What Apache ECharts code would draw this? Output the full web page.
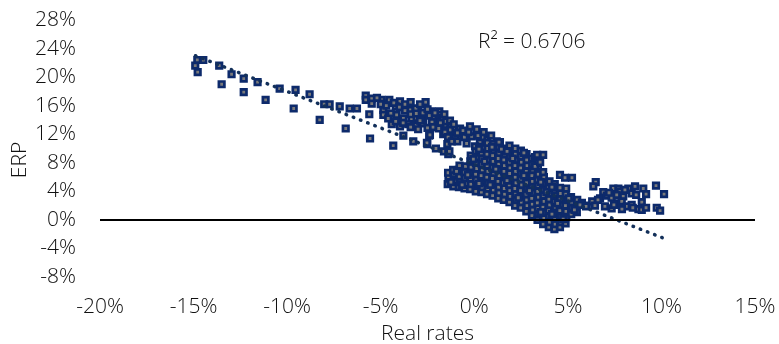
<!DOCTYPE html>
<html>
<head>
<meta charset="utf-8">
<script src="https://cdn.jsdelivr.net/npm/echarts@6/dist/echarts.min.js"></script>
<style>
html,body{margin:0;padding:0;background:#fff;}
#chart{width:779px;height:344px;}
</style>
</head>
<body>
<div id="chart"></div>
<script>
// Axis ticks (percent)
const xTicks = [-20, -15, -10, -5, 0, 5, 10, 15];
const yTicks = [-8, -4, 0, 4, 8, 12, 16, 20, 24, 28];

// Observations: [real rate %, ERP %]
const sparseTail = [
  [-14.80,22.4],[-14.48,22.4],[-14.91,21.6],[-14.78,20.7],[-13.63,21.6],[-12.97,20.4],[-13.50,19.0],
  [-12.32,19.8],[-12.32,17.9],[-11.58,19.3],[-11.15,16.8],[-10.40,18.4],[-9.55,18.2],[-9.65,15.6],
  [-8.80,17.6],[-8.26,14.0],[-8.02,16.2],[-7.73,16.2],[-7.19,15.9],[-6.87,12.8],[-6.66,15.6],[-6.27,15.6]
];

const upperBand = [
  [-5.80,17.4],[-5.80,16.8],[-5.48,17.0],[-5.48,16.3],[-4.95,16.8],[-4.54,16.8],[-3.97,16.6],[-4.86,15.4],
  [-4.86,14.7],[-4.20,15.9],[-5.61,14.8],[-3.44,15.4],[-2.99,15.6],[-2.60,16.5],[-4.15,14.7],[-3.79,14.2],
  [-3.35,14.2],[-3.08,14.3],[-2.73,14.7],[-2.28,15.2],[-1.87,15.2],[-4.41,13.4],[-3.97,13.1],[-3.53,13.4],
  [-3.12,13.2],[-2.73,13.8],[-2.19,14.0],[-1.92,14.2],[-5.57,11.4],[-4.33,10.4],[-3.79,11.8],[-3.26,11.0],
  [-2.41,11.8],[-2.51,10.6],[-2.05,10.0],[-1.62,9.6],[-1.39,9.2],[-1.44,10.6],[-1.12,12.8],[-0.76,12.8],
  [-0.23,13.1],[0.13,12.7],[-1.03,11.5],[-0.59,11.9],[-0.14,11.7],[0.30,11.0],[0.66,11.2],[-1.92,13.3],
  [-1.57,13.3],[-1.30,12.6],[-1.66,12.0],[-0.41,10.7],[0.04,10.3],[0.40,10.0],[0.84,10.5],[1.20,11.0],
  [-2.74,15.0],[-2.21,14.4],[-1.83,14.7],[-1.67,14.3],[-2.74,13.7],[-2.26,13.7],[-2.37,11.9],[-1.57,12.3],
  [0.41,11.6],[-2.53,10.8],[1.37,10.9],[-4.90,16.3],[-4.46,14.9],[-3.12,15.6],[-2.76,13.5],[-1.81,13.6],
  [-0.53,11.6],[-1.33,9.6],
  [-5.20,17.1],[-5.00,16.2],[-4.70,16.0],[-4.30,16.4],[-4.00,15.8],[-3.70,15.3],[-3.70,16.2],[-3.40,16.5],
  [-3.40,14.8],[-3.10,14.9],[-2.90,16.2],[-2.50,15.5],[-2.40,14.6],[-2.10,15.0],[-1.60,14.8],[-1.50,13.8],
  [-1.30,13.9],[-1.10,13.4],[-0.90,12.2],[-0.60,12.5],[-0.30,12.3],[-4.60,14.2],[-4.20,13.8],[-3.80,13.6],
  [-3.40,13.0],[-3.00,12.7],[-2.90,13.9],[-2.50,12.9],[-2.20,13.0],[-1.90,12.8],[-1.40,11.6],[-1.20,11.0],
  [-0.90,11.0],[0.20,11.8],[0.50,12.3],[0.90,11.8]
];

const mainCluster = [
  [-1.42,5.0],[-1.38,5.9],[-1.40,6.6],
  [-1.12,4.7],[-1.08,5.5],[-1.10,6.4],[-1.13,7.0],
  [-0.82,4.6],[-0.78,5.3],[-0.80,6.1],[-0.83,7.0],[-0.79,7.6],
  [-0.52,4.4],[-0.48,5.1],[-0.50,5.9],[-0.53,6.7],[-0.47,7.5],
  [-0.22,4.3],[-0.18,5.0],[-0.20,5.8],[-0.23,6.6],[-0.17,7.4],[-0.21,8.2],[-0.19,9.0],
  [0.08,4.0],[0.12,4.8],[0.10,5.6],[0.07,6.4],[0.13,7.2],[0.09,8.0],[0.11,8.8],[0.08,9.6],
  [0.38,3.9],[0.42,4.6],[0.40,5.4],[0.37,6.2],[0.43,7.0],[0.39,7.8],[0.41,8.6],[0.38,9.4],[0.42,10.2],
  [0.68,3.6],[0.72,4.4],[0.70,5.2],[0.67,6.0],[0.73,6.8],[0.69,7.6],[0.71,8.4],[0.68,9.2],[0.72,10.0],[0.70,10.8],
  [0.98,3.4],[1.02,4.2],[1.00,5.0],[0.97,5.8],[1.03,6.6],[0.99,7.4],[1.01,8.2],[0.98,9.0],[1.02,9.8],[1.00,10.6],
  [1.28,3.0],[1.32,3.8],[1.30,4.6],[1.27,5.4],[1.33,6.2],[1.29,7.0],[1.31,7.8],[1.28,8.6],[1.32,9.4],[1.30,10.2],
  [1.58,2.8],[1.62,3.6],[1.60,4.4],[1.57,5.2],[1.63,6.0],[1.59,6.8],[1.61,7.6],[1.58,8.4],[1.62,9.2],[1.60,10.0],
  [1.88,2.5],[1.92,3.3],[1.90,4.1],[1.87,4.9],[1.93,5.7],[1.89,6.5],[1.91,7.3],[1.88,8.1],[1.92,8.9],[1.90,9.7],[1.88,10.4],
  [2.18,2.0],[2.22,2.8],[2.20,3.6],[2.17,4.4],[2.23,5.2],[2.19,6.0],[2.21,6.8],[2.18,7.6],[2.22,8.4],[2.20,9.2],[2.19,10.0],
  [2.48,1.7],[2.52,2.5],[2.50,3.3],[2.47,4.1],[2.53,4.9],[2.49,5.7],[2.51,6.5],[2.48,7.3],[2.52,8.1],[2.50,8.9],[2.49,9.7],
  [2.78,1.2],[2.82,2.0],[2.80,2.8],[2.77,3.6],[2.83,4.4],[2.79,5.2],[2.81,6.0],[2.78,6.8],[2.82,7.6],[2.80,8.4],[2.79,9.2],
  [3.08,0.6],[3.12,1.4],[3.10,2.2],[3.07,3.0],[3.13,3.8],[3.09,4.6],[3.11,5.4],[3.08,6.2],[3.12,7.0],[3.10,7.8],[3.09,8.6],
  [3.38,0.0],[3.42,0.8],[3.40,1.6],[3.37,2.4],[3.43,3.2],[3.39,4.0],[3.41,4.8],[3.38,5.6],[3.42,6.4],[3.40,7.2],
  [3.68,-0.6],[3.72,0.2],[3.70,1.0],[3.67,1.8],[3.73,2.6],[3.69,3.4],[3.71,4.2],[3.68,5.0],[3.72,6.0],
  [3.98,-1.0],[4.02,-0.3],[4.00,0.5],[3.97,1.3],[4.03,2.1],[3.99,2.9],[4.01,3.7],[3.98,4.5],[4.02,5.4],
  [4.28,-1.3],[4.32,-0.6],[4.30,0.2],[4.27,1.0],[4.33,1.8],[4.29,2.6],[4.31,3.4],[4.28,4.2],[4.30,5.0],
  [4.58,-1.0],[4.62,-0.3],[4.60,0.5],[4.57,1.3],[4.63,2.1],[4.59,2.9],[4.61,3.7],[4.58,4.5],
  [4.88,-0.5],[4.92,0.4],[4.90,1.2],[4.87,2.0],[4.93,2.8],[4.89,3.6],[4.91,4.4],
  [5.18,0.8],[5.22,1.7],[5.20,2.5],[5.17,3.2],
  [5.48,1.1],[5.52,2.2],[5.50,2.8],
  [5.75,2.4],[6.01,2.0],[6.30,2.6],
  [-1.25,5.3],[-0.95,6.8],[-0.65,4.9],[-0.35,6.3],[0.25,5.1],[0.55,8.2],[0.85,4.9],[1.15,7.1],
  [1.45,9.9],[1.75,5.5],[2.05,8.6],[2.35,3.1],[2.65,6.2],[2.95,4.1],[3.25,7.5],[3.55,1.1],
  [3.85,3.9],[4.15,0.8],[4.45,2.3],[4.75,0.1],[5.05,3.0],[5.35,1.4],[0.95,10.2],[1.75,9.6],
  [2.65,9.4],[3.25,8.8],[0.25,9.9],[-0.05,8.5],[3.55,5.3],[4.15,4.6]
];

const isolatedPoints = [
  [3.36,9.1],[3.68,9.1],[3.52,8.1],[3.68,6.7],[4.58,6.3],[4.85,5.9],[5.22,5.9],[1.32,10.9]
];

const rightCluster = [
  [6.49,5.3],[6.36,4.7],[6.89,3.9],[7.43,4.4],[7.70,4.4],[7.79,4.0],[8.23,4.4],[8.59,4.7],[9.03,4.4],
  [9.18,3.6],[9.71,4.8],[10.14,3.6],[6.72,3.0],[7.08,3.4],[7.34,3.1],[7.61,3.5],[7.96,3.3],[8.41,3.7],
  [8.95,2.5],[5.65,2.1],[5.97,1.9],[6.45,2.0],[6.98,1.9],[7.34,1.6],[7.70,2.3],[7.88,2.6],[8.15,1.9],
  [8.41,2.1],[8.77,1.5],[8.95,1.4],[9.75,1.7],[9.93,1.3],[6.61,2.8],[7.20,3.8],[8.05,4.2],[8.65,3.5],
  [7.46,2.1],[7.89,1.5],[8.47,1.7],[9.18,1.7]
];

// Linear trendline endpoints
const trendLine = [[-14.9, 23.0], [10.25, -2.7]];
const rSquaredLabel = 'R\u00B2 = 0.6706';

const allPoints = sparseTail.concat(upperBand, mainCluster, isolatedPoints, rightCluster);

const FONT = '"Open Sans", "Noto Sans", sans-serif';
const chart = echarts.init(document.getElementById('chart'), null, {renderer: 'canvas'});
chart.setOption({
  animation: false,
  backgroundColor: '#ffffff',
  grid: {left: 100, right: 24, top: 20, bottom: 67, containLabel: false, outerBoundsMode: 'none'},
  xAxis: {
    type: 'value', min: xTicks[0], max: xTicks[xTicks.length - 1], interval: 5,
    axisLine: {show: false}, axisTick: {show: false}, splitLine: {show: false},
    axisLabel: {formatter: '{value}%', color: '#111', fontSize: 21, fontFamily: FONT, fontWeight: 300, margin: 20},
    name: 'Real rates', nameLocation: 'middle', nameGap: 47,
    nameTextStyle: {color: '#111', fontSize: 21, fontFamily: FONT, fontWeight: 300}
  },
  yAxis: {
    type: 'value', min: yTicks[0], max: yTicks[yTicks.length - 1], interval: 4,
    axisLine: {show: false}, axisTick: {show: false}, splitLine: {show: false},
    axisLabel: {formatter: '{value}%', color: '#111', fontSize: 21, fontFamily: FONT, fontWeight: 300, margin: 24}
  },
  graphic: [
    {type: 'text', x: 20, y: 160, rotation: Math.PI / 2,
     style: {text: 'ERP', fill: '#111', font: '300 21px ' + FONT, textAlign: 'center', textVerticalAlign: 'middle'}},
    {type: 'text', x: 478, y: 42,
     style: {text: rSquaredLabel, fill: '#111', font: '300 21px ' + FONT, textAlign: 'left', textVerticalAlign: 'middle'}}
  ],
  series: [
    {
      type: 'scatter', data: allPoints, symbol: 'rect', symbolSize: 5.5,
      itemStyle: {color: '#7a7a7a', borderColor: '#0d2a6b', borderWidth: 2.7, opacity: 1},
      markLine: {
        silent: true, symbol: 'none', label: {show: false},
        lineStyle: {color: '#000', width: 2, type: 'solid'},
        data: [{yAxis: 0}], animation: false
      },
      z: 2
    },
    {
      type: 'line', data: trendLine, showSymbol: false, symbol: 'none',
      lineStyle: {color: '#13305a', width: 3.5, type: [0.5, 7.2], cap: 'round'},
      z: 3
    }
  ]
});
</script>
</body>
</html>
